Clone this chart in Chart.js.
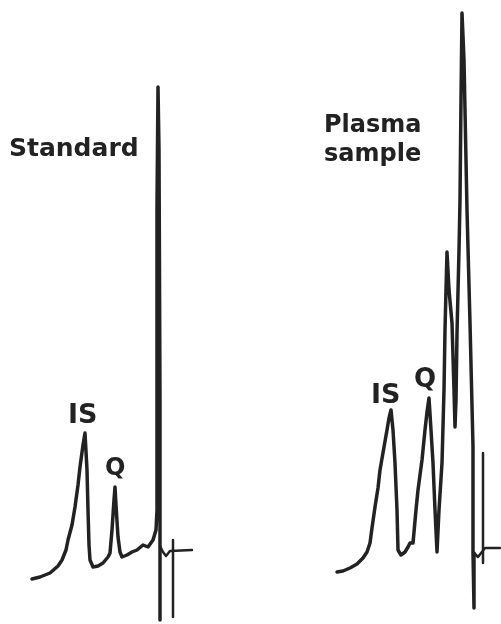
<!DOCTYPE html>
<html>
<head>
<meta charset="utf-8">
<script src="https://cdn.jsdelivr.net/npm/chart.js@4/dist/chart.umd.min.js"></script>
<style>
  html, body { margin: 0; padding: 0; background: #fff; }
  #wrap { position: relative; width: 501px; height: 624px; overflow: hidden; }
  canvas { position: absolute; left: 0; top: 0; }
  .lbl { position: absolute; font-family: "DejaVu Sans", sans-serif; font-weight: bold; color: #222; white-space: nowrap; line-height: 1; }
</style>
</head>
<body>
<div id="wrap">
  <canvas id="c" width="501" height="624"></canvas>
  <div class="lbl" style="left:9px; top:135px; font-size:25px;">Standard</div>
  <div class="lbl" style="left:324px; top:110px; font-size:24px; line-height:29px;">Plasma<br>sample</div>
  <div class="lbl" style="left:68px; top:400px; font-size:27px;">IS</div>
  <div class="lbl" style="left:105px; top:455px; font-size:24px;">Q</div>
  <div class="lbl" style="left:371px; top:380px; font-size:27px;">IS</div>
  <div class="lbl" style="left:414px; top:365px; font-size:26px;">Q</div>
</div>
<script>
// Chromatogram traces (x = time position, y = detector signal)
const stdTime = [32,40,50,58,62,66,68,72,75,78,80,83,85,87,88,89,90,93,98,103,108,110,112,114,115,116,118,120,122,127,132,137,143,148,153,156,157,157,158,159,160,160];
const stdSignal = [45,47,51,58,64,74,84,99,117,139,157,179,191,154,114,79,64,57,58,61,67,71,94,124,137,119,87,72,67,69,72,74,79,77,84,94,114,419,537,474,224,4];
const stdMarkTime = [160,163,166,170,192];
const stdMarkSignal = [78,72,68,73,74];
const stdInjTime = [173,173];
const stdInjSignal = [84,7];

const plasmaTime = [337,343,350,357,363,367,370,372,375,378,380,384,387,389,391,393,395,397,398,401,405,408,410,413,416,418,422,425,427,429,431,433,435,437,439,442,444,445,446,447,449,452,454,455,456,457,459,460,461,462,464,467,470,473,473,474,474];
const plasmaSignal = [52,53,56,60,66,72,81,96,117,136,154,177,194,206,214,194,161,114,74,69,72,77,81,81,114,134,164,194,212,226,194,161,114,72,114,161,234,294,334,372,334,301,234,197,224,291,374,424,524,611,564,414,301,177,71,16,71];
const plasmaMarkTime = [474,478,485,500];
const plasmaMarkSignal = [71,67,76,76];
const plasmaInjTime = [483,483];
const plasmaInjSignal = [171,61];

const ink = '#222';
function pts(xs, ys) { return xs.map((x, i) => ({ x: x, y: ys[i] })); }
function ds(xs, ys, w) {
  return { data: pts(xs, ys), showLine: true, borderColor: ink, borderWidth: w,
           pointRadius: 0, tension: 0, fill: false, borderJoinStyle: 'round', borderCapStyle: 'round' };
}

new Chart(document.getElementById('c'), {
  type: 'scatter',
  data: {
    datasets: [
      ds(stdTime, stdSignal, 3.5),
      ds(stdMarkTime, stdMarkSignal, 2.5),
      ds(stdInjTime, stdInjSignal, 2.5),
      ds(plasmaTime, plasmaSignal, 3.5),
      ds(plasmaMarkTime, plasmaMarkSignal, 2.5),
      ds(plasmaInjTime, plasmaInjSignal, 2.5)
    ]
  },
  options: {
    responsive: false,
    animation: false,
    clip: false,
    layout: { padding: 0 },
    plugins: { legend: { display: false }, tooltip: { enabled: false } },
    scales: {
      x: { type: 'linear', min: 0, max: 501, display: false },
      y: { type: 'linear', min: 0, max: 624, display: false }
    }
  }
});
</script>
</body>
</html>
